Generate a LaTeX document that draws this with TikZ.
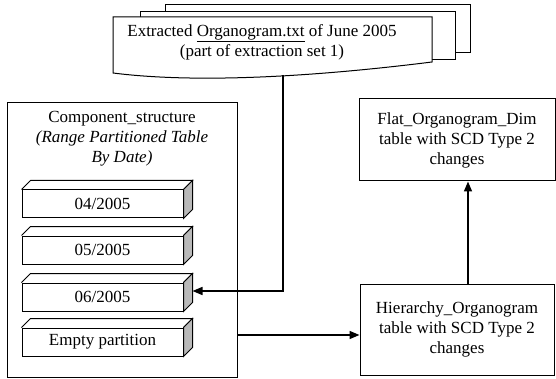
\documentclass[tikz,border=0pt]{standalone}
\usepackage{fontspec}
\setmainfont{Liberation Serif}
\usetikzlibrary{arrows.meta,positioning}

\tikzset{
  box/.style={draw,line width=1pt,align=center,inner sep=0pt},
  partface/.style={draw,line width=1pt,fill=white,minimum width=161pt,minimum height=28pt,inner sep=0pt},
  sheet/.style={draw,line width=1pt,fill=white},
  arr/.style={line width=1.6pt,-{Triangle[length=10pt,width=8pt]}},
}

\begin{document}
\begin{tikzpicture}[x=1pt,y=1pt,font=\fontsize{17}{20}\selectfont]
  \useasboundingbox (0,0) rectangle (556,-379);

  % stack of extracted files
  \draw[sheet] (165,-5) rectangle (470,-53);
  \draw[sheet] (140,-12) rectangle (455,-60);
  \draw[sheet] (113,-17) -- (432,-17) -- (432,-62) .. controls (320,-76) and (200,-84) .. (113,-73) -- cycle;
  \node[align=center] (extract) at (262,-42) {Extracted \underline{Organogram.txt} of June 2005\\(part of extraction set 1)};
  \coordinate (extractout) at (283,-75);

  % partitioned table
  \node[box,minimum width=230pt,minimum height=274pt] (comp) at (122,-240) {};
  \node[align=center] (comptitle) at (122,-139) {Component\_structure\\\textit{(Range Partitioned Table}\\\textit{By Date)}};

  \node[partface] (p1) at (102.5,-204) {04/2005};
  \node[partface] (p2) at (102.5,-250) {05/2005};
  \node[partface] (p3) at (102.5,-297) {06/2005};
  \node[partface] (p4) at (102.5,-342) {Empty partition};
  \foreach \p in {p1,p2,p3,p4} {
    \draw[line width=1pt] (\p.north west) -- ++(9,9) -- ([shift={(9,9)}]\p.north east) -- (\p.north east);
    \draw[line width=1pt,fill=gray!55] (\p.north east) -- ++(9,9) -- ([shift={(9,9)}]\p.south east) -- (\p.south east) -- cycle;
  }

  % dimension tables
  \node[box,minimum width=196pt,minimum height=82pt] (flat) at (457,-140) {Flat\_Organogram\_Dim\\table with SCD Type 2\\changes};
  \node[box,minimum width=194pt,minimum height=91pt] (hier) at (457,-329.5) {Hierarchy\_Organogram\\table with SCD Type 2\\changes};

  \coordinate (into) at ([yshift=-5.5pt]hier.west);
  \draw[arr] (extractout) |- ([shift={(9,6)}]p3.east);
  \draw[arr] (comp.east |- into) -- (into);
  \draw[arr] ([xshift=11pt]hier.north) -- ([xshift=11pt]flat.south);
\end{tikzpicture}
\end{document}
